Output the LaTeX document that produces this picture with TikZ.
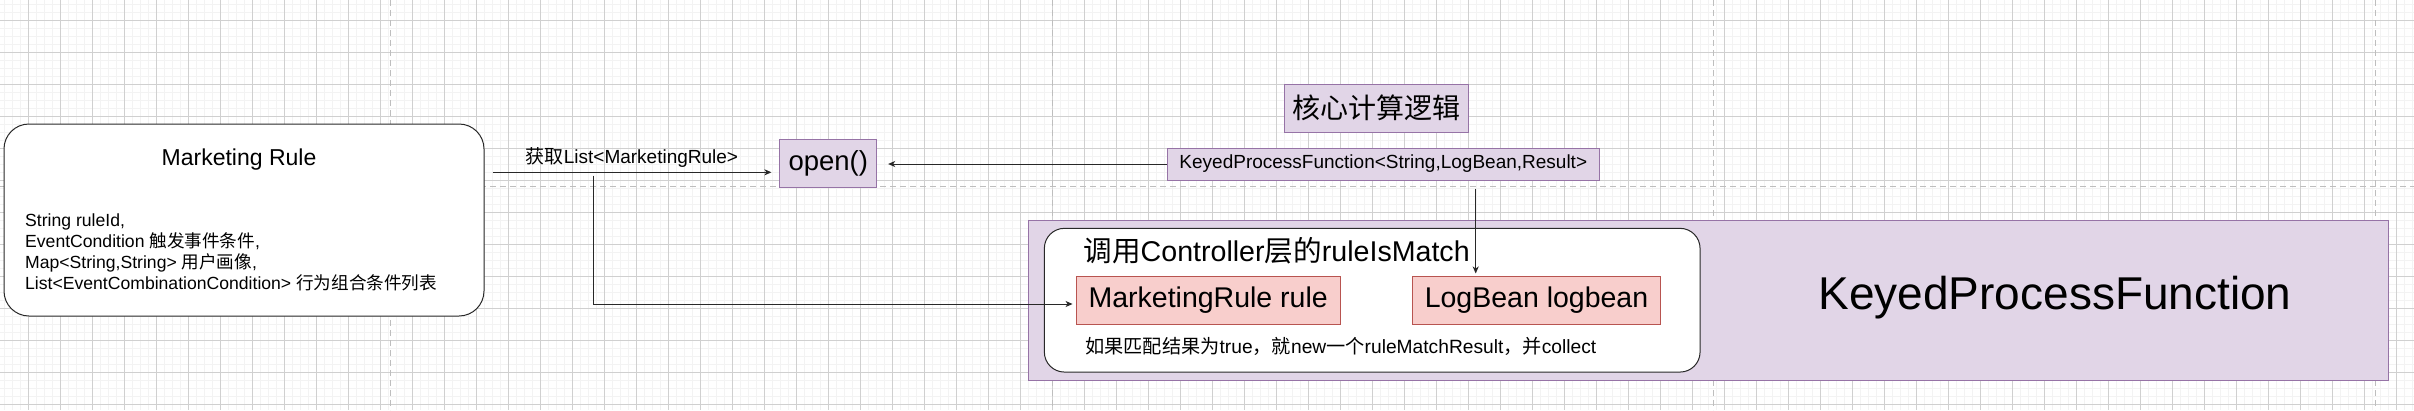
\documentclass[tikz,border=0pt]{standalone}
\usepackage{fontspec}
\setmainfont{Liberation Sans}
\newfontfamily\cjk{Noto Sans CJK SC}
\usetikzlibrary{arrows.meta, calc}
\usepackage{xcolor}
\definecolor{procFill}{HTML}{E1D5E7}
\definecolor{procLine}{HTML}{9673A6}
\definecolor{paramFill}{HTML}{F8CECC}
\definecolor{paramLine}{HTML}{B85450}
\definecolor{gridMajor}{RGB}{208, 208, 208}
\definecolor{gridMinor}{RGB}{243, 243, 243}
\definecolor{pageBreak}{RGB}{190, 190, 190}
\definecolor{edgeDark}{RGB}{40, 40, 40}
\newcommand{\zh}[1]{{\cjk #1}}

\begin{document}
\begin{tikzpicture}[x=1pt, y=-1pt,
    procbox/.style={draw=procLine, fill=procFill, line width=1pt, inner sep=0pt},
    parambox/.style={draw=paramLine, fill=paramFill, line width=1pt, inner sep=0pt,
      minimum height=48pt, font=\fontsize{28.5}{34}\selectfont},
    roundbox/.style={draw=edgeDark, fill=white, line width=1pt, inner sep=0pt},
    edgearrow/.style={draw=edgeDark, line width=1pt,
      -{Stealth[length=7pt, width=6pt, inset=2pt]}},
    minorline/.style={draw=gridMinor, line width=1pt},
    majorline/.style={draw=gridMajor, line width=1pt},
    pagebreak/.style={draw=pageBreak, line width=1.2pt, dash pattern=on 6pt off 4pt}]
    %
    % Units are pixels of the 2414 x 410 canvas, y grows downwards.
    %
    \useasboundingbox (0,0) rectangle (2414,410);

    %% ── canvas grid and page breaks ─────────────────────────────────
    \fill[white] (0,0) rectangle (2414,410);
    \foreach \gx in {4.5,12.5,...,2414} \draw[minorline] (\gx,0) -- (\gx,410);
    \foreach \gy in {4.5,12.5,...,410} \draw[minorline] (0,\gy) -- (2414,\gy);
    \foreach \gx in {28.5,60.5,...,2414} \draw[majorline] (\gx,0) -- (\gx,410);
    \foreach \gy in {20.5,52.5,...,410} \draw[majorline] (0,\gy) -- (2414,\gy);
    \foreach \px in {390.7,1052.2,...,2414} \draw[pagebreak] (\px,0) -- (\px,410);
    \draw[pagebreak] (0,186.7) -- (2414,186.7);

    %% ── Marketing Rule (left) ───────────────────────────────────────
    \node[roundbox, rounded corners=25pt, minimum width=480pt, minimum height=192pt]
      (mrule) at (244,220) {};
    \node[font=\fontsize{23}{28}\selectfont, inner sep=0pt] (mruletitle) at (239,160)
      {Marketing Rule};
    \node[anchor=west, align=left, inner sep=0pt, font=\fontsize{17.6}{21}\selectfont]
      (mrulebody) at (25,252)
      {String ruleId,\\
       EventCondition \zh{触发事件条件},\\
       Map<String,String> \zh{用户画像},\\
       List<EventCombinationCondition> \zh{行为组合条件列表}};

    %% ── open() and the core logic (top) ─────────────────────────────
    \node[procbox, minimum width=96.7pt, minimum height=48pt,
          font=\fontsize{27.5}{33}\selectfont] (open) at (828.3,163.3) {open()};
    \node[procbox, minimum width=184.3pt, minimum height=48pt,
          font=\fontsize{28}{34}\selectfont] (core) at (1376.2,108.3) {\zh{核心计算逻辑}};
    \node[procbox, minimum width=432pt, minimum height=32pt,
          font=\fontsize{19}{23}\selectfont] (keyed) at (1383.3,164)
      {KeyedProcessFunction<String,LogBean,Result>};

    %% ── KeyedProcessFunction (bottom right) ─────────────────────────
    \node[procbox, minimum width=1360pt, minimum height=160pt] (kpf) at (1708.3,300) {};
    \node[font=\fontsize{46}{55}\selectfont, inner sep=0pt] (kpflabel) at (2055,298)
      {KeyedProcessFunction};
    % controller call
    \node[roundbox, rounded corners=20pt, minimum width=655.7pt, minimum height=143.7pt]
      (ctrl) at (1372.2,300.2) {};
    \node[anchor=west, inner sep=0pt, font=\fontsize{28.6}{34}\selectfont] (ctrltitle)
      at (1083.3,250.7) {\zh{调用}Controller\zh{层的}ruleIsMatch};
    \node[parambox, minimum width=264.3pt] (mrbox) at (1208.2,300) {MarketingRule rule};
    \node[parambox, minimum width=248.4pt] (logbean) at (1536.5,300) {LogBean logbean};
    \node[anchor=west, inner sep=0pt, font=\fontsize{19.2}{23}\selectfont] (ctrlnote)
      at (1085,346.7)
      {\zh{如果匹配结果为}true\zh{，就}new\zh{一个}ruleMatchResult\zh{，并}collect};

    %% ── connectors ──────────────────────────────────────────────────
    \coordinate (rulesrc) at (593.7,172.3);
    \draw[edgearrow, shorten <=8pt, shorten >=8pt] (mrule.east |- rulesrc)
      -- node[above=4pt, inner sep=0pt, font=\fontsize{19}{23}\selectfont]
         {\zh{获取}List<MarketingRule>} (open.west |- rulesrc);
    \draw[edgearrow, shorten >=11pt] (keyed.west) -- (keyed.west -| open.east);
    \draw[edgearrow, shorten <=8pt, shorten >=2pt] ([xshift=92.4pt]keyed.south)
      -- ([xshift=92.4pt]keyed.south |- logbean.north);
    \draw[edgearrow, shorten >=3pt] ([yshift=-3.4pt]rulesrc) |- ([yshift=-4pt]mrbox.west);

  \end{tikzpicture}
\end{document}
